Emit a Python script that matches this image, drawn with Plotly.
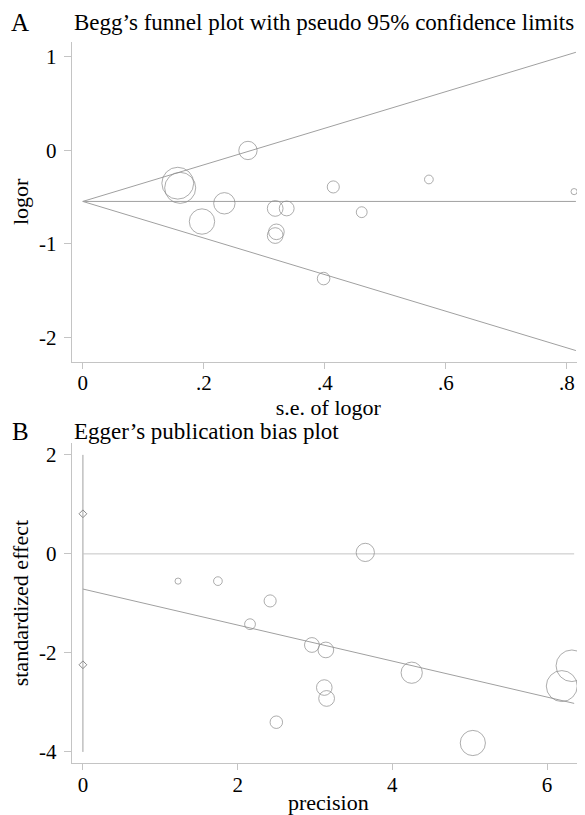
import plotly.graph_objects as go
from plotly.subplots import make_subplots

# ---------------- Panel A: Begg's funnel plot ----------------
se = [0.157, 0.161, 0.273, 0.197, 0.234, 0.318, 0.337, 0.320, 0.318, 0.414, 0.461, 0.572, 0.812, 0.398]
logor = [-0.35, -0.40, 0.00, -0.76, -0.565, -0.62, -0.62, -0.87, -0.91, -0.39, -0.66, -0.31, -0.44, -1.37]
funnel_se = [0.0, 0.815]
pooled = [-0.545, -0.545]
upper_limit = [-0.545, 1.05]
lower_limit = [-0.545, -2.14]

a_xticks = [0, 0.2, 0.4, 0.6, 0.8]
a_xlabels = ["0", ".2", ".4", ".6", ".8"]
a_yticks = [1, 0, -1, -2]
a_ylabels = ["1", "0", "-1", "-2"]

# ---------------- Panel B: Egger's publication bias plot ----------------
precision = [3.65, 1.23, 1.745, 2.42, 2.16, 2.96, 3.14, 4.25, 6.32, 6.19, 3.12, 3.15, 2.50, 5.04]
std_effect = [0.03, -0.55, -0.55, -0.95, -1.42, -1.84, -1.94, -2.40, -2.26, -2.67, -2.70, -2.92, -3.40, -3.82]
reg_x = [0.0, 6.35]
reg_y = [-0.71, -3.02]
zero_x = [0.0, 6.35]
zero_y = [0.0, 0.0]
vline_x = [0.0, 0.0]
vline_y = [2.0, -4.0]
ci_x = [0.0, 0.0]
ci_y = [0.81, -2.24]

b_xticks = [0, 2, 4, 6]
b_xlabels = ["0", "2", "4", "6"]
b_yticks = [2, 0, -2, -4]
b_ylabels = ["2", "0", "-2", "-4"]

FONT = "Liberation Serif, Times New Roman, serif"
LINE_C = "#a0a0a0"
MARK_C = "#8a8a8a"
AXIS_C = "#c4c4c4"
OFF = 8                       # page body margin of the browser
W, H = 585 - OFF, 815 - OFF   # figure size that fits the window


def px(v):
    """reference pixel -> figure pixel"""
    return v - OFF


fig = make_subplots(rows=2, cols=1)

# Panel A traces
fig.add_trace(go.Scatter(x=funnel_se, y=upper_limit, mode="lines",
                         line=dict(color=LINE_C, width=1), hoverinfo="skip"), row=1, col=1)
fig.add_trace(go.Scatter(x=funnel_se, y=lower_limit, mode="lines",
                         line=dict(color=LINE_C, width=1), hoverinfo="skip"), row=1, col=1)
fig.add_trace(go.Scatter(x=funnel_se, y=pooled, mode="lines",
                         line=dict(color=LINE_C, width=1), hoverinfo="skip"), row=1, col=1)
fig.add_trace(go.Scatter(x=se, y=logor, mode="markers",
                         marker=dict(symbol="circle-open", color=MARK_C,
                                     size=[5.0 / s for s in se], line=dict(width=1))),
              row=1, col=1)

# Panel B traces
fig.add_trace(go.Scatter(x=vline_x, y=vline_y, mode="lines",
                         line=dict(color=LINE_C, width=1), hoverinfo="skip"), row=2, col=1)
fig.add_trace(go.Scatter(x=zero_x, y=zero_y, mode="lines",
                         line=dict(color=AXIS_C, width=1), hoverinfo="skip"), row=2, col=1)
fig.add_trace(go.Scatter(x=reg_x, y=reg_y, mode="lines",
                         line=dict(color=LINE_C, width=1), hoverinfo="skip"), row=2, col=1)
fig.add_trace(go.Scatter(x=ci_x, y=ci_y, mode="markers",
                         marker=dict(symbol="diamond-open", color=MARK_C, size=6,
                                     line=dict(width=1))), row=2, col=1)
fig.add_trace(go.Scatter(x=precision, y=std_effect, mode="markers",
                         marker=dict(symbol="circle-open", color=MARK_C,
                                     size=[5.0 * p for p in precision], line=dict(width=1))),
              row=2, col=1)

x_dom = [px(71.7) / W, 1.0]
tickfont = dict(family=FONT, size=21, color="black")
titlefont = dict(family=FONT, size=22, color="black")

common_x = dict(showline=True, linecolor=AXIS_C, linewidth=1, ticks="outside",
                ticklen=6, tickcolor=AXIS_C, showgrid=False, zeroline=False,
                tickfont=tickfont, domain=x_dom, ticklabelstandoff=-4)
common_y = dict(showline=True, linecolor=AXIS_C, linewidth=1, ticks="outside",
                ticklen=7, tickcolor=AXIS_C, showgrid=False, zeroline=False,
                tickfont=tickfont, ticklabelstandoff=3)

fig.update_layout(
    xaxis=dict(common_x, range=[-0.0183, 0.830], tickvals=a_xticks, ticktext=a_xlabels,
               title=dict(text="s.e. of logor", font=titlefont, standoff=0),
               anchor="y"),
    yaxis=dict(common_y, range=[-2.259, 1.16], tickvals=a_yticks, ticktext=a_ylabels,
               domain=[1 - px(361.7) / H, 1 - px(42) / H],
               title=dict(text="logor", font=titlefont, standoff=9), anchor="x"),
    xaxis2=dict(common_x, range=[-0.145, 6.49], tickvals=b_xticks, ticktext=b_xlabels,
                title=dict(text="precision", font=titlefont, standoff=0),
                anchor="y2"),
    yaxis2=dict(common_y, range=[-4.23, 2.24], tickvals=b_yticks, ticktext=b_ylabels,
                domain=[1 - px(763.3) / H, 1 - px(443) / H],
                title=dict(text="standardized effect", font=titlefont, standoff=9),
                anchor="x2"),
    width=W, height=H,
    margin=dict(l=0, r=0, t=0, b=0),
    paper_bgcolor="white", plot_bgcolor="white",
    showlegend=False,
    font=dict(family=FONT, color="black"),
)

annos = [
    dict(text="A", x=px(9) / W, y=1 - px(22) / H, font=dict(family=FONT, size=25)),
    dict(text="Begg\u2019s funnel plot with pseudo 95% confidence limits",
         x=px(71.5) / W, y=1 - px(23) / H, font=dict(family=FONT, size=23)),
    dict(text="B", x=px(10) / W, y=1 - px(431) / H, font=dict(family=FONT, size=25)),
    dict(text="Egger\u2019s publication bias plot", x=px(71.5) / W, y=1 - px(432) / H,
         font=dict(family=FONT, size=23)),
]
for a in annos:
    fig.add_annotation(xref="paper", yref="paper", xanchor="left", yanchor="middle",
                       showarrow=False, **a)

fig.write_html("out.html")
